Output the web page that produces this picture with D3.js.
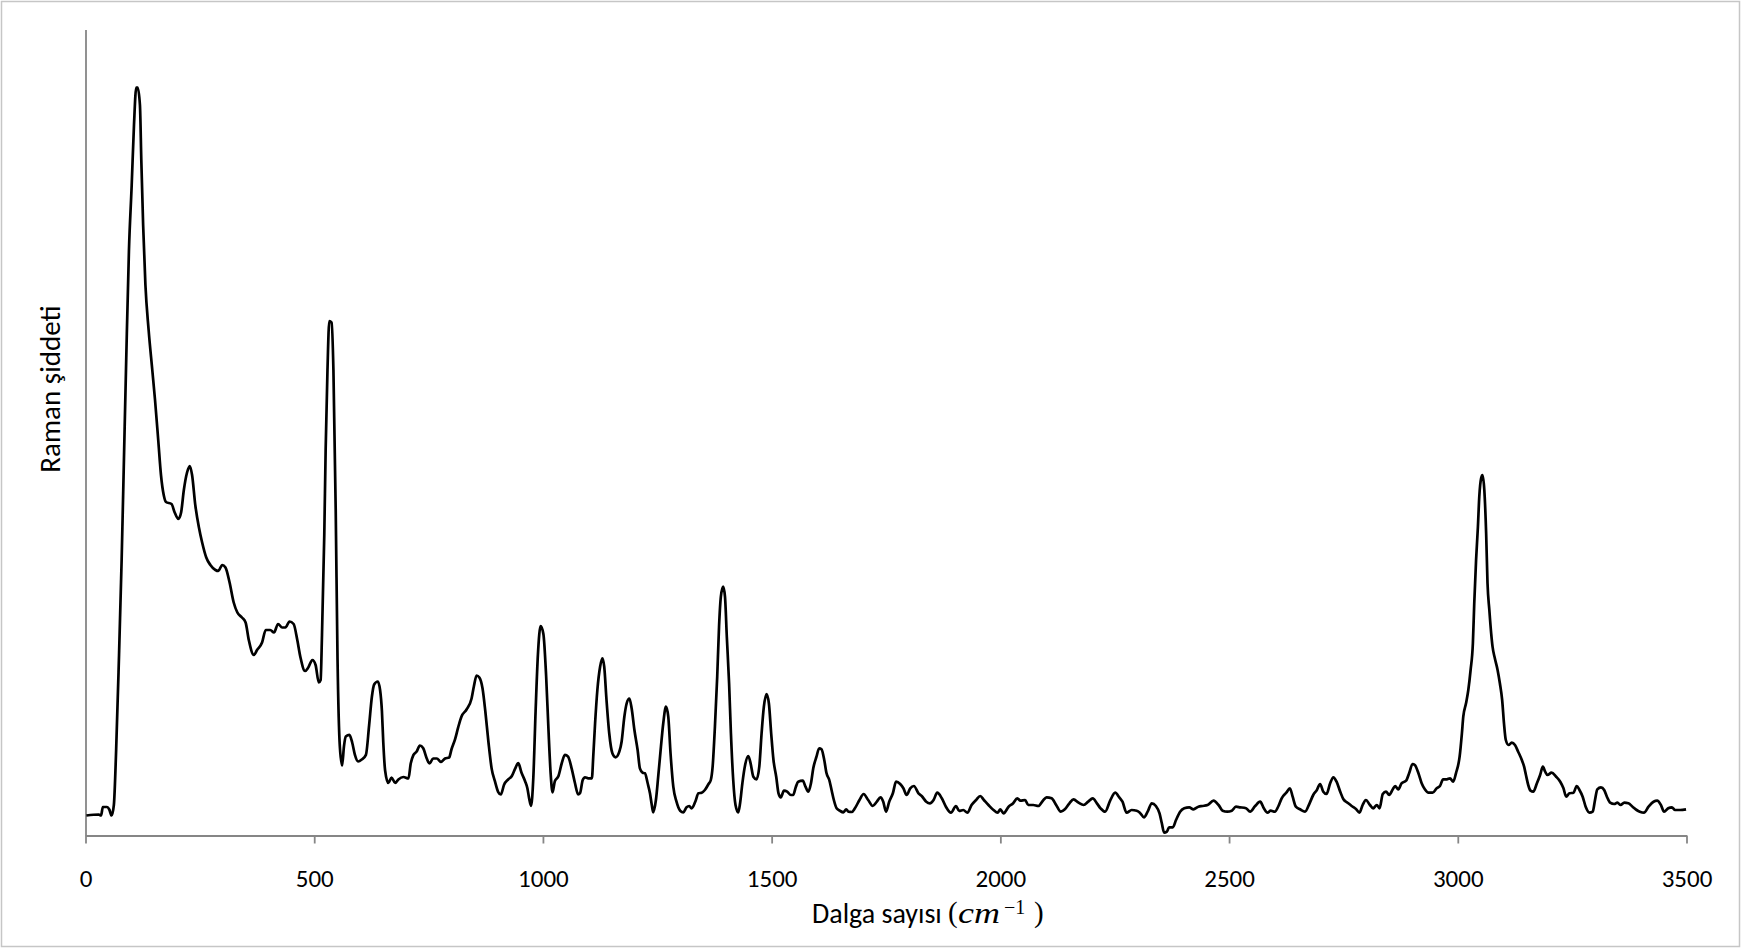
<!DOCTYPE html>
<html>
<head>
<meta charset="utf-8">
<script src="https://cdn.jsdelivr.net/npm/d3@7"></script>
<style>
  body { margin: 0; background: #fff; }
  .lbl { font-family: Carlito, 'Liberation Sans Narrow', 'Liberation Sans', sans-serif; font-size: 25px; fill: #000; }
  .title { font-size: 28px; }
  .math { font-family: 'Liberation Serif', 'DejaVu Serif', serif; }
</style>
</head>
<body>
<svg id="chart" width="1742" height="949"></svg>
<script>
// wavenumber (cm-1) and Raman intensity (a.u.)
const wavenumber = [
  2, 29, 34, 38, 47, 52, 57, 62, 67, 73, 79, 84, 89, 95, 101, 106, 111, 114, 119, 122,
  126, 131, 138, 146, 152, 159, 165, 171, 176, 188, 195, 203, 209, 215, 222, 228, 233, 240, 248, 255,
  264, 273, 284, 290, 299, 306, 315, 324, 332, 342, 350, 357, 368, 375, 386, 394, 404, 412, 421, 430,
  437, 446, 455, 463, 470, 480, 487, 496, 503, 510, 514, 517, 522, 525, 529, 533, 538, 542, 547, 551,
  556, 561, 565, 569, 577, 583, 589, 596, 604, 613, 620, 626, 631, 639, 644, 648, 651, 655, 662, 669,
  677, 684, 695, 706, 711, 717, 724, 731, 738, 746, 752, 760, 768, 777, 786, 795, 800, 808, 815, 822,
  833, 844, 849, 855, 861, 868, 874, 881, 888, 895, 902, 908, 915, 924, 932, 939, 946, 953, 961, 966,
  970, 974, 979, 984, 989, 995, 1001, 1007, 1012, 1017, 1021, 1026, 1034, 1041, 1048, 1055, 1063, 1070, 1077,
  1081, 1087, 1092, 1099, 1107, 1110, 1114, 1119, 1125, 1130, 1134, 1139, 1145, 1152, 1159, 1167, 1172, 1178, 1183, 1189,
  1194, 1200, 1207, 1212, 1218, 1223, 1229, 1234, 1238, 1241, 1247, 1252, 1258, 1263, 1269, 1274, 1279, 1285, 1292, 1300,
  1307, 1314, 1320, 1325, 1333, 1340, 1347, 1354, 1362, 1367, 1371, 1376, 1381, 1385, 1389, 1394, 1398, 1402, 1407, 1411,
  1416, 1421, 1427, 1431, 1436, 1442, 1449, 1454, 1460, 1467, 1473, 1478, 1483, 1489, 1494, 1499, 1504, 1510, 1515, 1520,
  1527, 1534, 1542, 1547, 1553, 1558, 1568, 1574, 1580, 1586, 1591, 1598, 1604, 1609, 1615, 1620, 1626, 1631, 1636, 1642,
  1649, 1657, 1663, 1668, 1675, 1682, 1692, 1701, 1711, 1721, 1730, 1738, 1744, 1750, 1757, 1765, 1772, 1781, 1788, 1795,
  1803, 1811, 1821, 1828, 1838, 1846, 1854, 1862, 1872, 1881, 1892, 1903, 1910, 1919, 1928, 1937, 1947, 1956, 1964, 1974,
  1985, 1994, 2000, 2007, 2018, 2028, 2037, 2044, 2054, 2061, 2072, 2083, 2093, 2101, 2112, 2122, 2132, 2141, 2151, 2160,
  2171, 2182, 2192, 2202, 2211, 2219, 2229, 2240, 2251, 2260, 2267, 2276, 2287, 2298, 2305, 2314, 2322, 2331, 2340, 2348,
  2353, 2358, 2364, 2369, 2377, 2384, 2393, 2402, 2413, 2422, 2433, 2442, 2453, 2466, 2477, 2486, 2496, 2506, 2515, 2524,
  2537, 2546, 2557, 2568, 2576, 2584, 2591, 2600, 2608, 2615, 2625, 2633, 2639, 2646, 2655, 2666, 2676, 2684, 2692, 2699,
  2706, 2713, 2721, 2728, 2735, 2743, 2750, 2759, 2768, 2778, 2785, 2792, 2799, 2808, 2815, 2823, 2829, 2836, 2843, 2850,
  2858, 2863, 2870, 2877, 2887, 2894, 2901, 2906, 2914, 2921, 2928, 2936, 2945, 2954, 2961, 2968, 2976, 2983, 2990, 2996,
  3004, 3009, 3012, 3018, 3023, 3028, 3033, 3036, 3040, 3044, 3047, 3051, 3054, 3058, 3062, 3065, 3069, 3073, 3076, 3081,
  3087, 3092, 3097, 3101, 3105, 3111, 3118, 3125, 3132, 3140, 3145, 3149, 3154, 3159, 3165, 3173, 3180, 3186, 3191, 3196,
  3205, 3215, 3224, 3231, 3237, 3244, 3253, 3260, 3266, 3273, 3280, 3288, 3295, 3300, 3305, 3313, 3320, 3326, 3333, 3342,
  3349, 3356, 3364, 3373, 3382, 3391, 3398, 3407, 3417, 3428, 3436, 3444, 3451, 3460, 3468, 3475, 3486, 3499
];

const intensity = [
  20, 21, 20, 28.5, 28.5, 26, 20, 30.5, 85.5, 175.5, 275.5, 375.5, 475.5, 585.5, 650.5, 710.5, 748, 748, 730.5, 675.5,
  610.5, 550.5, 505.5, 465.5, 435.5, 395.5, 360.5, 340.5, 333.5, 331.5, 323, 316.5, 323, 345.5, 363, 369.5, 360.5, 330.5, 308, 293,
  278, 270.5, 265.5, 264.5, 270.5, 268, 253, 233, 223, 218, 213, 195.5, 180.5, 185.5, 193, 205.5, 205.5, 203, 211.5, 208,
  208, 214, 211.5, 195.5, 178, 164.5, 168, 175.5, 170.5, 153, 155.5, 200.5, 300.5, 385.5, 465.5, 514.5, 513, 465.5, 325.5, 175.5,
  89, 70, 89, 99, 100.6, 93, 80.6, 74, 76, 80.6, 110, 138.5, 151, 154, 145.5, 124.5, 93, 65, 52.5, 58,
  52.5, 56, 58.5, 57, 72, 80.6, 84, 90, 87.5, 77, 72, 77, 77, 73.6, 77, 78, 86, 96.4, 108.6, 119,
  126, 137, 149, 160, 158, 147, 124.5, 93, 66.6, 54.3, 43.7, 41, 50.8, 56, 59.5, 66.6, 72.5, 63, 54.3, 47.3,
  36.7, 29.7, 57.8, 124.5, 180.6, 209.4, 201.6, 159.5, 107, 61, 43, 54.3, 59.5, 72, 80.6, 78.8, 66.6, 52.5, 41,
  42.2, 55.5, 58.2, 57.2, 57.2, 78.8, 112, 145.5, 168.8, 177.2, 168.8, 135.5, 102, 82, 78.2, 83.8, 93.8, 118.8, 132, 137,
  127, 105.5, 85.5, 67.2, 62.8, 62.2, 52.2, 42.2, 30.5, 23.2, 35.5, 58.8, 88.8, 112, 128.8, 118.8, 82, 48.8, 33.8, 24.8,
  23.2, 28.2, 29.5, 27.2, 33.8, 42.2, 42.8, 45.5, 51.5, 55.5, 68.8, 108.8, 158.8, 208.8, 238.8, 248.8, 238.8, 198.8, 152, 102,
  55.5, 30.5, 23.2, 32.2, 52.2, 70.5, 79.5, 72.2, 58.8, 56.2, 68.8, 102, 128.8, 141.5, 132, 102, 75.5, 58.8, 42.2, 38.2,
  44.8, 43.8, 40.5, 40.5, 48.8, 53.8, 54.8, 48.8, 43.8, 52.2, 67.2, 78.8, 87.2, 86.2, 75.5, 62.2, 55.5, 45.5, 35.5, 27.2,
  24.8, 23.2, 26.2, 23.8, 23.5, 27.2, 35.5, 41.5, 35.5, 29.5, 33.8, 38.2, 33.8, 23.8, 33.8, 42.2, 53.8, 51.5, 47.2, 40.5,
  47.2, 49.5, 42.2, 39.5, 33.8, 32.2, 35.5, 42.8, 37.2, 28.8, 22.8, 29.5, 24.5, 25.5, 22.8, 30.5, 35.5, 39.5, 35.5, 30.5,
  25.5, 22.8, 26.2, 22.2, 28.8, 32.2, 37.2, 34.8, 35.5, 30.5, 30.5, 29.5, 34.8, 38.2, 37.2, 30.5, 23.8, 26.2, 32.2, 36.2,
  32.8, 30.5, 33.8, 37.2, 32.2, 27.2, 23.8, 34.8, 42.8, 38.2, 33.8, 22.8, 25.5, 24.8, 22.8, 18.2, 23.8, 32.2, 29.5, 22.2,
  12.2, 2.8, 3.8, 8.2, 8.2, 15.5, 23.8, 27.2, 28.2, 26.2, 28.8, 29.5, 30.5, 34.8, 30.5, 24.8, 23.8, 24.8, 28.8, 28.2,
  27.2, 23.8, 29.5, 33.8, 27.2, 22.8, 24.8, 23.8, 29.5, 37.2, 42.8, 47.2, 38.8, 28.8, 26.2, 23.8, 32.2, 40.5, 45.5, 51.5,
  43.8, 41.5, 52.2, 58.2, 53.8, 43.8, 36.2, 32.8, 29.5, 26.2, 22.8, 30.5, 35.5, 30.5, 27.2, 30.5, 27.2, 41.5, 43.8, 40.5,
  46.2, 49.5, 46.2, 52.2, 54.8, 62.8, 71.5, 70.5, 62.2, 52.2, 46.2, 42.8, 42.8, 47.2, 49.5, 56.2, 56.2, 57.2, 53.8, 62.2,
  78.8, 102.2, 118.8, 132.2, 145.5, 165.5, 192.2, 232.2, 275.5, 308.8, 338.8, 357.2, 360.5, 345.5, 302.2, 252.2, 225.5, 202.2, 188.8, 177.2,
  165.5, 152.2, 135.5, 112.2, 95.5, 90.5, 92.8, 90.5, 83.8, 75.5, 68.8, 60.5, 50.5, 44.8, 43.8, 52.2, 60.5, 68.8, 63.8, 60.5,
  62.8, 58.8, 53.8, 47.2, 38.8, 42.2, 42.8, 49.5, 45.5, 38.8, 28.2, 22.8, 23.8, 35.5, 46.2, 48.2, 45.5, 38.8, 32.8, 31.5,
  32.8, 30.5, 32.8, 32.2, 28.8, 25.5, 23.8, 22.8, 28.8, 33.8, 34.8, 30.5, 23.8, 27.2, 28.2, 25.5, 25.5, 26.2
];

const xTicks = [0, 500, 1000, 1500, 2000, 2500, 3000, 3500];
const yMax = 806;

const svg = d3.select('#chart');

const plotLeft = 85.5;
const plotRight = 1686.5;
const plotTop = 29.5;
const plotBottom = 835.5;

// outer chart border
svg.append('rect')
  .attr('x', 1.5)
  .attr('y', 1.5)
  .attr('width', 1738)
  .attr('height', 945)
  .attr('fill', 'none')
  .attr('stroke', '#c6c6c6')
  .attr('stroke-width', 1.5);

const x = d3.scaleLinear()
  .domain([0, 3500])
  .range([plotLeft, plotRight]);

const y = d3.scaleLinear()
  .domain([0, yMax])
  .range([plotBottom, plotTop]);

const xAxis = svg.append('g')
  .attr('transform', `translate(0, ${plotBottom})`)
  .call(d3.axisBottom(x)
    .tickValues(xTicks)
    .tickSize(8)
    .tickSizeOuter(0)
    .tickFormat(d3.format('d')));

xAxis.attr('font-family', null).attr('font-size', null);
xAxis.select('.domain').attr('stroke', '#868686').attr('stroke-width', 1.8);
xAxis.selectAll('.tick line').attr('stroke', '#868686').attr('stroke-width', 1.8);
xAxis.selectAll('.tick text')
  .attr('class', 'lbl')
  .attr('y', 51.5)
  .attr('dy', 0);

const yAxis = svg.append('g')
  .attr('transform', `translate(${plotLeft}, 0)`)
  .call(d3.axisLeft(y).tickValues([]).tickSizeOuter(0));

yAxis.select('.domain').attr('stroke', '#868686').attr('stroke-width', 1.8);

const pts = wavenumber.map((w, i) => [w, intensity[i]]);

const line = d3.line()
  .x((d) => x(d[0]))
  .y((d) => y(d[1]))
  .curve(d3.curveMonotoneX);

svg.append('path')
  .datum(pts)
  .attr('fill', 'none')
  .attr('stroke', '#000')
  .attr('stroke-width', 2.7)
  .attr('stroke-linejoin', 'round')
  .attr('d', line);

// axis titles
svg.append('text')
  .attr('class', 'lbl title')
  .attr('transform', 'translate(60, 389) rotate(-90)')
  .attr('text-anchor', 'middle')
  .style('font-size', '29px')
  .text('Raman şiddeti');

svg.append('text')
  .attr('class', 'lbl title')
  .attr('x', 812)
  .attr('y', 923)
  .text('Dalga sayısı');

// (cm^-1) part, set like an equation
const eq = svg.append('text')
  .attr('class', 'lbl math')
  .style('font-size', '29px');

eq.append('tspan').attr('x', 948).attr('y', 922).text('(');
eq.append('tspan').attr('x', 958).attr('y', 923)
  .attr('font-style', 'italic')
  .attr('textLength', 42)
  .attr('lengthAdjust', 'spacingAndGlyphs')
  .text('cm');
eq.append('tspan').attr('x', 1004).attr('y', 914)
  .style('font-size', '20px')
  .text('−1');
eq.append('tspan').attr('x', 1034).attr('y', 922).text(')');
</script>
</body>
</html>
